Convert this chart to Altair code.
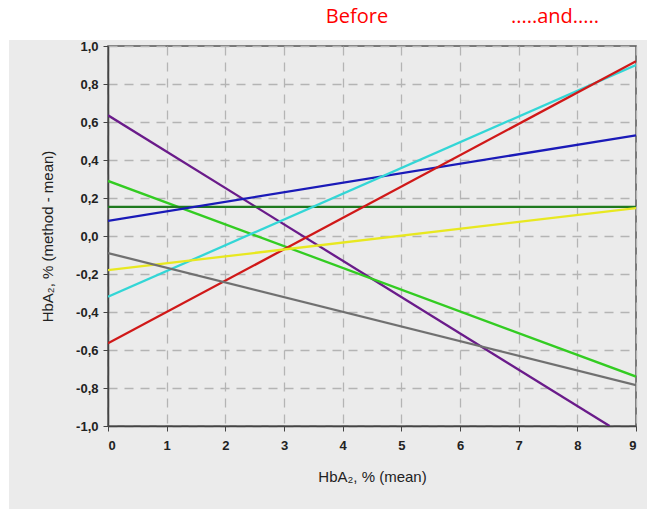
import altair as alt
import pandas as pd

series = ["purple", "green", "darkgreen", "blue", "cyan", "red", "yellow", "grey"]
colors = ["#6a1b8a", "#33cc22", "#1f7a1f", "#1a1ab8", "#33d6d6", "#d01818", "#e8e820", "#707070"]
x_start = [0, 0, 0, 0, 0, 0, 0, 0]
y_start = [0.635, 0.29, 0.153, 0.08, -0.32, -0.565, -0.18, -0.09]
x_end = [8.55, 9, 9, 9, 9, 9, 9, 9]
y_end = [-1.0, -0.74, 0.153, 0.53, 0.90, 0.92, 0.147, -0.785]

rows = []
for s, x0, y0, x1, y1 in zip(series, x_start, y_start, x_end, y_end):
    rows.append({"s": s, "x": x0, "y": y0})
    rows.append({"s": s, "x": x1, "y": y1})
df = pd.DataFrame(rows)

x_ticks = list(range(0, 10))
y_ticks = [-1.0, -0.8, -0.6, -0.4, -0.2, 0.0, 0.2, 0.4, 0.6, 0.8, 1.0]

W, H = 528, 380

one = pd.DataFrame({"a": [0]})
strip_top = alt.Chart(one).mark_rect(color="white", clip=False).encode(
    x=alt.value(-108), x2=alt.value(W + 11), y=alt.value(-46), y2=alt.value(-6)
)
strip_left = alt.Chart(one).mark_rect(color="white", clip=False).encode(
    x=alt.value(-108), x2=alt.value(-99), y=alt.value(-46), y2=alt.value(H + 83)
)

lines = alt.Chart(df).mark_line(strokeWidth=2.3, clip=True).encode(
    x=alt.X("x:Q", scale=alt.Scale(domain=[0, 9], nice=False),
            axis=alt.Axis(values=x_ticks, title="HbA₂, % (mean)", format="d",
                          grid=True, gridDash=[9, 7], gridColor="#b4b4b4", gridWidth=1.3,
                          domainColor="#444", domainWidth=1.5, tickColor="#444", tickSize=5,
                          labelFont="Liberation Sans", labelFontWeight="bold", labelFontSize=13,
                          labelColor="#222", labelPadding=8,
                          titleFont="Liberation Sans", titleFontWeight="normal", titleFontSize=15,
                          titleColor="#222", titlePadding=17, titleX=264)),
    y=alt.Y("y:Q", scale=alt.Scale(domain=[-1, 1], nice=False),
            axis=alt.Axis(values=y_ticks, title="HbA₂, % (method - mean)",
                          labelExpr="replace(replace(format(datum.value, '.1f'), '.', ','), '\u2212', '-')",
                          grid=True, gridDash=[9, 7], gridColor="#b4b4b4", gridWidth=1.3,
                          domainColor="#444", domainWidth=1.5, tickColor="#444", tickSize=5,
                          labelFont="Liberation Sans", labelFontWeight="bold", labelFontSize=13,
                          labelColor="#222", labelPadding=5,
                          titleFont="Liberation Sans", titleFontWeight="normal", titleFontSize=15,
                          titleColor="#222", titlePadding=20)),
    color=alt.Color("s:N", scale=alt.Scale(domain=series, range=colors), legend=None),
    detail="s:N",
)

ann_text = ["Before", ".....and....."]
ann = alt.Chart(pd.DataFrame({"t": ann_text, "px": [249, 447]})).mark_text(
    color="#ff0000", fontSize=20, font="Open Sans", clip=False, baseline="middle"
).encode(
    text="t:N", x=alt.X("px:Q", scale=None), y=alt.value(-29)
)

chart = alt.layer(strip_top, strip_left, lines, ann).properties(
    width=W, height=H,
    autosize=alt.AutoSizeParams(type="none"),
    padding={"left": 108, "top": 46, "right": 11, "bottom": 83},
    background="#ebebeb",
).configure_view(stroke="#555", strokeWidth=1.5, fill="#ebebeb")

chart.save("out.html", embed_options={"renderer": "svg", "actions": False})
